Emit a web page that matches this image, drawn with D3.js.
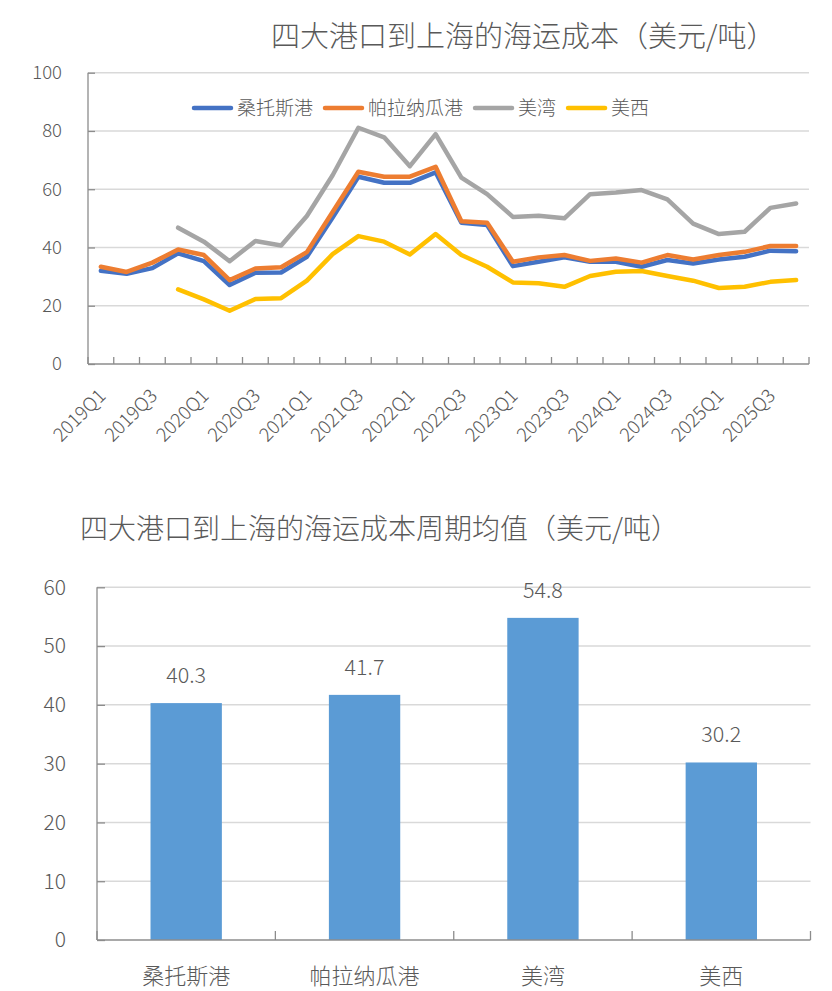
<!DOCTYPE html>
<html><head><meta charset="utf-8">
<script src="https://cdn.jsdelivr.net/npm/d3@7/dist/d3.min.js"></script>
<style>
body{margin:0;background:#fff;}
svg{display:block;font-family:"Noto Sans CJK SC","Noto Sans",sans-serif;font-weight:300;}
text{fill:#595959;}
</style></head><body>
<svg id="c" width="832" height="991"></svg>
<script>
const quarters = ["2019Q1","2019Q2","2019Q3","2019Q4","2020Q1","2020Q2","2020Q3","2020Q4",
"2021Q1","2021Q2","2021Q3","2021Q4","2022Q1","2022Q2","2022Q3","2022Q4",
"2023Q1","2023Q2","2023Q3","2023Q4","2024Q1","2024Q2","2024Q3","2024Q4",
"2025Q1","2025Q2","2025Q3","2025Q4"];
const santos    = [32.0,31.0,32.9,38.0,35.3,27.1,31.3,31.4,36.8,50.3,64.3,62.2,62.2,65.8,48.5,47.7,33.6,35.1,36.6,35.1,35.1,33.4,35.7,34.5,35.9,36.8,38.9,38.7];
const paranagua = [33.4,31.6,34.8,39.3,37.4,28.8,32.8,33.2,38.4,52.2,66.0,64.3,64.3,67.7,49.0,48.5,35.1,36.6,37.4,35.4,36.2,34.8,37.4,35.9,37.4,38.5,40.5,40.5];
const gulf      = [null,null,null,46.8,42.0,35.3,42.2,40.7,50.8,64.8,81.1,77.8,67.9,78.9,64.0,58.3,50.5,50.9,50.0,58.3,58.9,59.7,56.5,48.2,44.6,45.4,53.6,55.1];
const west      = [null,null,null,25.6,22.2,18.3,22.3,22.6,28.6,37.7,43.9,42.0,37.6,44.6,37.4,33.4,28.0,27.7,26.5,30.2,31.7,31.9,30.2,28.6,26.1,26.5,28.2,28.8];
const seriesNames = ["桑托斯港","帕拉纳瓜港","美湾","美西"];
const lineTicks = [0,20,40,60,80,100];
const barCats = ["桑托斯港","帕拉纳瓜港","美湾","美西"];
const barVals = [40.3,41.7,54.8,30.2];
const barTicks = [0,10,20,30,40,50,60];
const title1 = "四大港口到上海的海运成本（美元/吨）";
const title2 = "四大港口到上海的海运成本周期均值（美元/吨）";

const colors = ["#4472C4","#ED7D31","#A5A5A5","#FFC000"];
const svg = d3.select("#c");
const gridC = "#D9D9D9", axisC = "#8C8C8C";

// ---------- Line chart ----------
const L = {x0:88, x1:809, yTop:72.7, yBot:364};
const x = d3.scaleBand().domain(quarters).range([L.x0, L.x1]);
const y = d3.scaleLinear().domain([0,100]).range([L.yBot, L.yTop]);

svg.append("text").attr("x",271).attr("y",47).attr("font-size",29).text(title1);

const g1 = svg.append("g");
lineTicks.filter(t=>t>0).forEach(t=>{
  g1.append("line").attr("x1",L.x0).attr("x2",L.x1).attr("y1",y(t)).attr("y2",y(t))
    .attr("stroke",gridC).attr("stroke-width",1.5);
});
const ya = g1.append("g").attr("transform",`translate(${L.x0},0)`)
  .call(d3.axisRight(y).tickValues(lineTicks).tickSize(7).tickFormat(""));
ya.selectAll("path,line").attr("stroke",axisC).attr("stroke-width",1.3);
ya.select(".domain").attr("d",`M0,${L.yTop}V${L.yBot}`);
lineTicks.forEach(t=>{
  g1.append("text").attr("x",62).attr("y",y(t)).attr("dy","0.35em").attr("text-anchor","end")
    .attr("font-size",18.5).text(t);
});
g1.append("line").attr("x1",L.x0).attr("x2",L.x1).attr("y1",L.yBot).attr("y2",L.yBot)
  .attr("stroke",axisC).attr("stroke-width",1.5);
const bounds = quarters.map(q=>x(q)).concat([L.x1]);
bounds.forEach(b=>{
  g1.append("line").attr("x1",b).attr("x2",b).attr("y1",L.yBot).attr("y2",L.yBot-7)
    .attr("stroke",axisC).attr("stroke-width",1.3);
});
quarters.forEach((q,i)=>{
  if(i%2!==0) return;
  const cx = x(q)+x.bandwidth()/2;
  g1.append("text").attr("transform",`translate(${cx+6},${L.yBot+33}) rotate(-45)`)
    .attr("text-anchor","end").attr("font-size",19).text(q);
});
const allSeries = [santos, paranagua, gulf, west];
const lineGen = d3.line().defined(d=>d!=null)
  .x((d,i)=>x(quarters[i])+x.bandwidth()/2).y(d=>y(d));
allSeries.forEach((s,k)=>{
  g1.append("path").datum(s).attr("d",lineGen).attr("fill","none")
    .attr("stroke",colors[k]).attr("stroke-width",4.5)
    .attr("stroke-linejoin","round").attr("stroke-linecap","round");
});
let lx = 192; const ly = 108;
seriesNames.forEach((n,k)=>{
  g1.append("line").attr("x1",lx+2).attr("x2",lx+39).attr("y1",ly).attr("y2",ly)
    .attr("stroke",colors[k]).attr("stroke-width",4.5).attr("stroke-linecap","round");
  const t = g1.append("text").attr("x",lx+45).attr("y",ly).attr("dy","0.36em")
    .attr("font-size",19).text(n);
  lx = lx + 45 + t.node().getComputedTextLength() + 10;
});

// ---------- Bar chart ----------
const B = {x0:97, x1:810.5, yTop:587.3, yBot:940};
const xb = d3.scaleBand().domain(barCats).range([B.x0,B.x1]).paddingInner(0.6).paddingOuter(0.3);
const xbFull = d3.scaleBand().domain(barCats).range([B.x0,B.x1]);
const yb = d3.scaleLinear().domain([0,60]).range([B.yBot,B.yTop]);

svg.append("text").attr("x",80).attr("y",539).attr("font-size",28).text(title2);

const g2 = svg.append("g");
barTicks.filter(t=>t>0).forEach(t=>{
  g2.append("line").attr("x1",B.x0).attr("x2",B.x1).attr("y1",yb(t)).attr("y2",yb(t))
    .attr("stroke",gridC).attr("stroke-width",1.5);
});
const yba = g2.append("g").attr("transform",`translate(${B.x0},0)`)
  .call(d3.axisRight(yb).tickValues(barTicks).tickSize(8).tickFormat(""));
yba.selectAll("path,line").attr("stroke",axisC).attr("stroke-width",1.3);
yba.select(".domain").attr("d",`M0,${B.yTop}V${B.yBot}`);
barTicks.forEach(t=>{
  g2.append("text").attr("x",66).attr("y",yb(t)).attr("dy","0.35em").attr("text-anchor","end")
    .attr("font-size",21).text(t);
});
g2.selectAll("rect").data(barVals).join("rect")
  .attr("x",(d,i)=>xb(barCats[i])).attr("width",xb.bandwidth())
  .attr("y",d=>yb(d)).attr("height",d=>B.yBot-yb(d)).attr("fill","#5B9BD5");
g2.append("line").attr("x1",B.x0).attr("x2",B.x1).attr("y1",B.yBot).attr("y2",B.yBot)
  .attr("stroke",axisC).attr("stroke-width",1.5);
barCats.map(c=>xbFull(c)).concat([B.x1]).forEach(b=>{
  g2.append("line").attr("x1",b).attr("x2",b).attr("y1",B.yBot).attr("y2",B.yBot-9)
    .attr("stroke",axisC).attr("stroke-width",1.3);
});
barVals.forEach((v,i)=>{
  const cx = xbFull(barCats[i])+xbFull.bandwidth()/2;
  g2.append("text").attr("x",cx).attr("y",yb(v)-20).attr("text-anchor","middle")
    .attr("font-size",21.5).text(v.toFixed(1));
  g2.append("text").attr("x",cx).attr("y",984).attr("text-anchor","middle")
    .attr("font-size",22).text(barCats[i]);
});
</script>
</body></html>
